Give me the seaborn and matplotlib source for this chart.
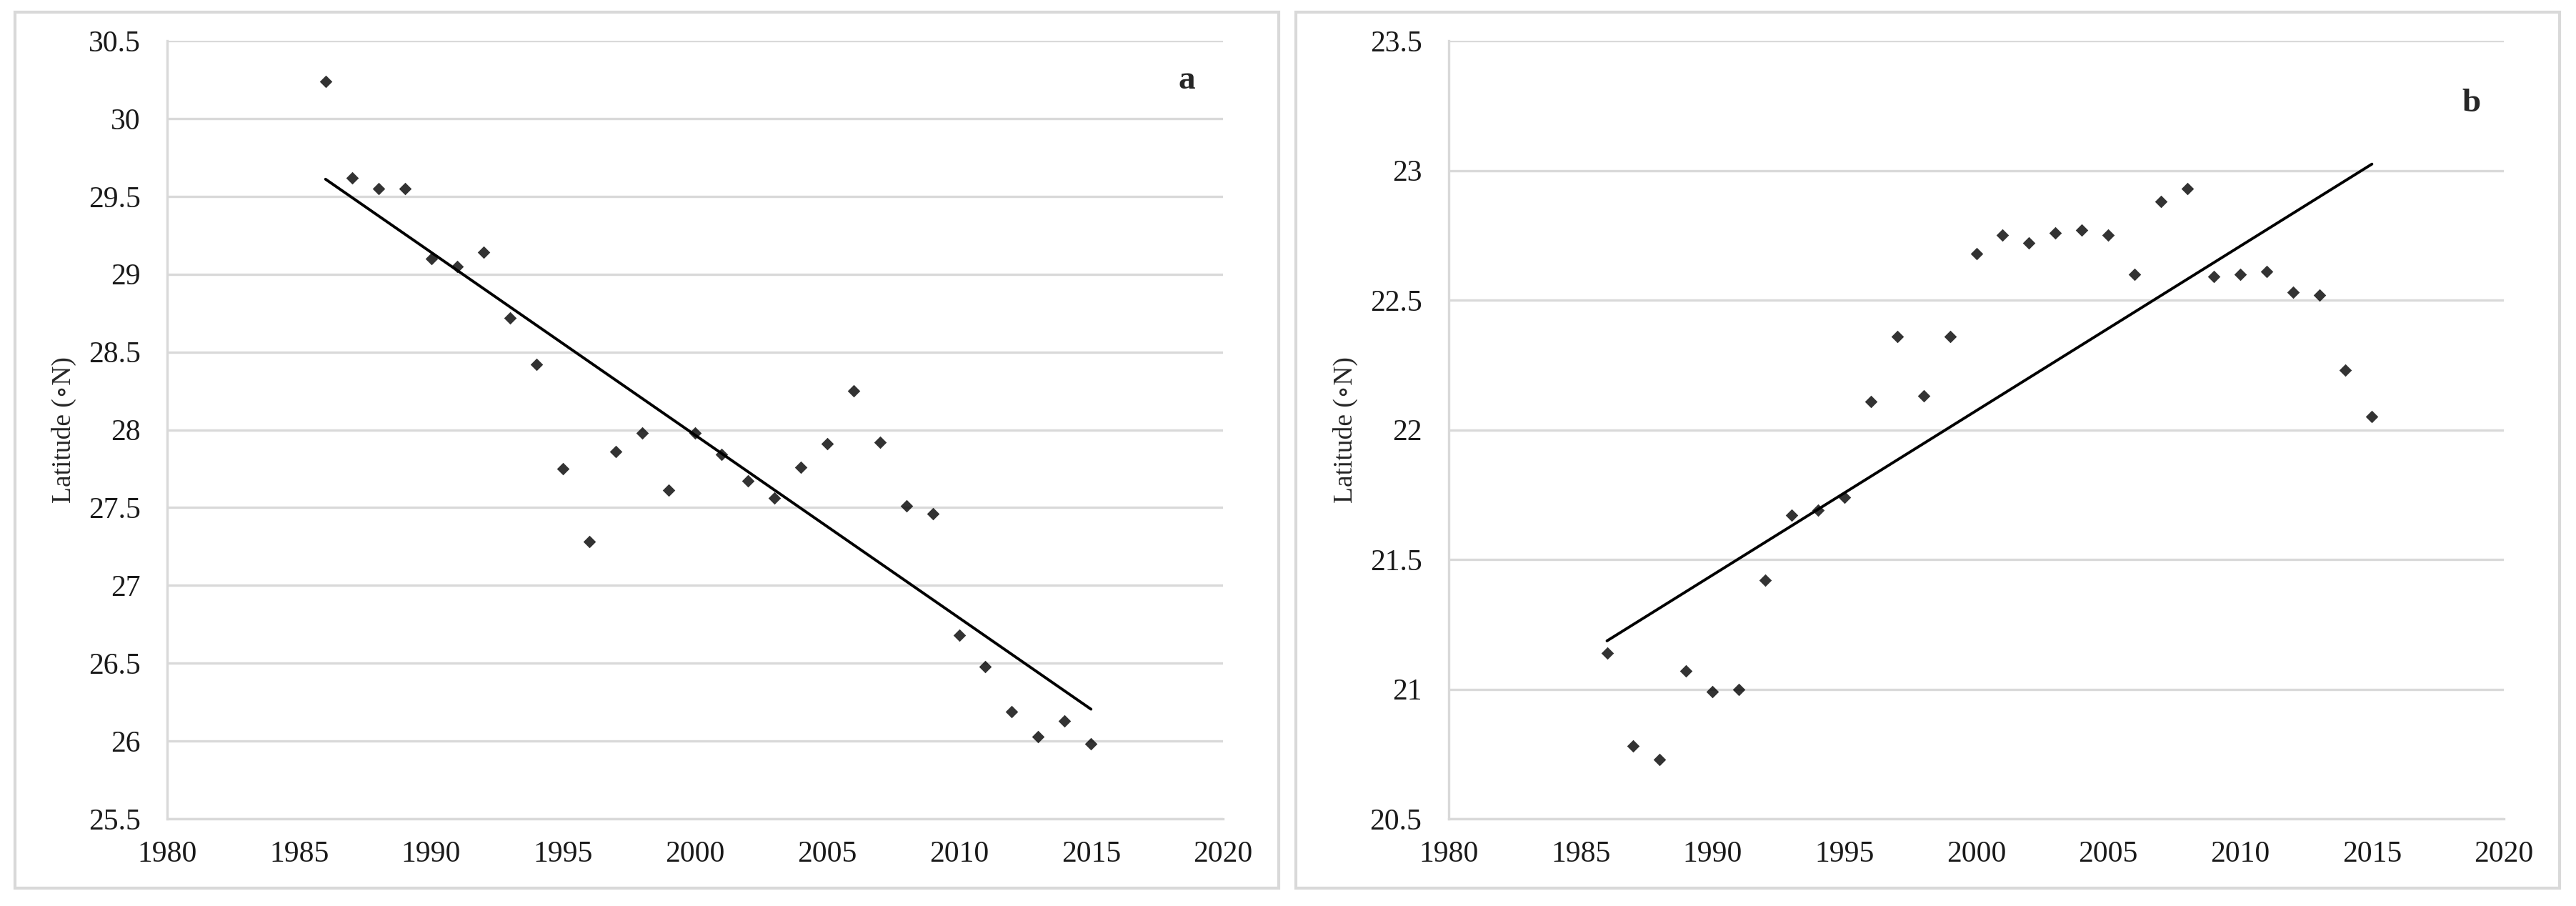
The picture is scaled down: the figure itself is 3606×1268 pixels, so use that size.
import numpy as np
import pandas as pd
import seaborn as sns
import matplotlib.pyplot as plt
from matplotlib.patches import Rectangle

years = list(range(1986, 2016))

# panel a
lat_a = [30.24, 29.62, 29.55, 29.55, 29.10, 29.05, 29.14, 28.72, 28.42, 27.75,
         27.28, 27.86, 27.98, 27.61, 27.98, 27.84, 27.67, 27.56, 27.76, 27.91,
         28.25, 27.92, 27.51, 27.46, 26.68, 26.48, 26.19, 26.03, 26.13, 25.98]

# panel b
lat_b = [21.14, 20.78, 20.73, 21.07, 20.99, 21.00, 21.42, 21.67, 21.69, 21.74,
         22.11, 22.36, 22.13, 22.36, 22.68, 22.75, 22.72, 22.76, 22.77, 22.75,
         22.60, 22.88, 22.93, 22.59, 22.60, 22.61, 22.53, 22.52, 22.23, 22.05]

x_ticks = [1980, 1985, 1990, 1995, 2000, 2005, 2010, 2015, 2020]
yticks_a = [25.5, 26, 26.5, 27, 27.5, 28, 28.5, 29, 29.5, 30, 30.5]
yticks_b = [20.5, 21, 21.5, 22, 22.5, 23, 23.5]

df_a = pd.DataFrame({'year': years, 'lat': lat_a})
df_b = pd.DataFrame({'year': years, 'lat': lat_b})

sns.set_style('white')
plt.rcParams['font.family'] = ['Liberation Serif', 'DejaVu Serif']

W, H = 3606, 1268
fig = plt.figure(figsize=(W / 100, H / 100), dpi=100)

# outer frames (excel chart area borders)
for x0, x1 in [(21, 1790), (1814, 3583)]:
    fig.patches.append(Rectangle((x0 / W, 1 - 1243 / H), (x1 - x0) / W, (1243 - 17) / H,
                                 transform=fig.transFigure, fill=False,
                                 edgecolor='#d9d9d9', linewidth=3))

top, bot = 57, 1146
ax1 = fig.add_axes([234 / W, 1 - bot / H, (1712 - 234) / W, (bot - top) / H])
ax2 = fig.add_axes([2028 / W, 1 - bot / H, (3505 - 2028) / W, (bot - top) / H])

panels = [(ax1, df_a, yticks_a, 'a', 0.966, 0.949), (ax2, df_b, yticks_b, 'b', 0.969, 0.919)]
for ax, df, yt, lab, lx, ly in panels:
    sns.regplot(data=df, x='year', y='lat', ax=ax, ci=None,
                marker='D', scatter_kws={'s': 80, 'color': 'black', 'linewidths': 0},
                line_kws={'color': 'black', 'linewidth': 2.8})
    ax.set_xlim(1980, 2020)
    ax.set_ylim(yt[0], yt[-1])
    ax.set_xticks(x_ticks)
    ax.set_yticks(yt)
    ax.set_yticklabels([f'{v:g}' for v in yt])
    ax.grid(axis='y', color='#d9d9d9', linewidth=2.4)
    ax.set_axisbelow(True)
    for s in ['top', 'right']:
        ax.spines[s].set_visible(False)
    for s in ['left', 'bottom']:
        ax.spines[s].set_color('#d9d9d9')
        ax.spines[s].set_linewidth(2.4)
    ax.tick_params(axis='both', labelsize=30, length=0, colors='#1a1a1a')
    ax.tick_params(axis='y', pad=27)
    ax.tick_params(axis='x', pad=22)
    ax.set_xlabel('')
    ax.set_ylabel('Latitude (∘N)', fontsize=27, color='#262626', labelpad=12)
    ax.text(lx, ly, lab, transform=ax.transAxes, fontsize=34, fontweight='bold',
            ha='center', va='center')

fig.savefig('out.png', dpi=100)
